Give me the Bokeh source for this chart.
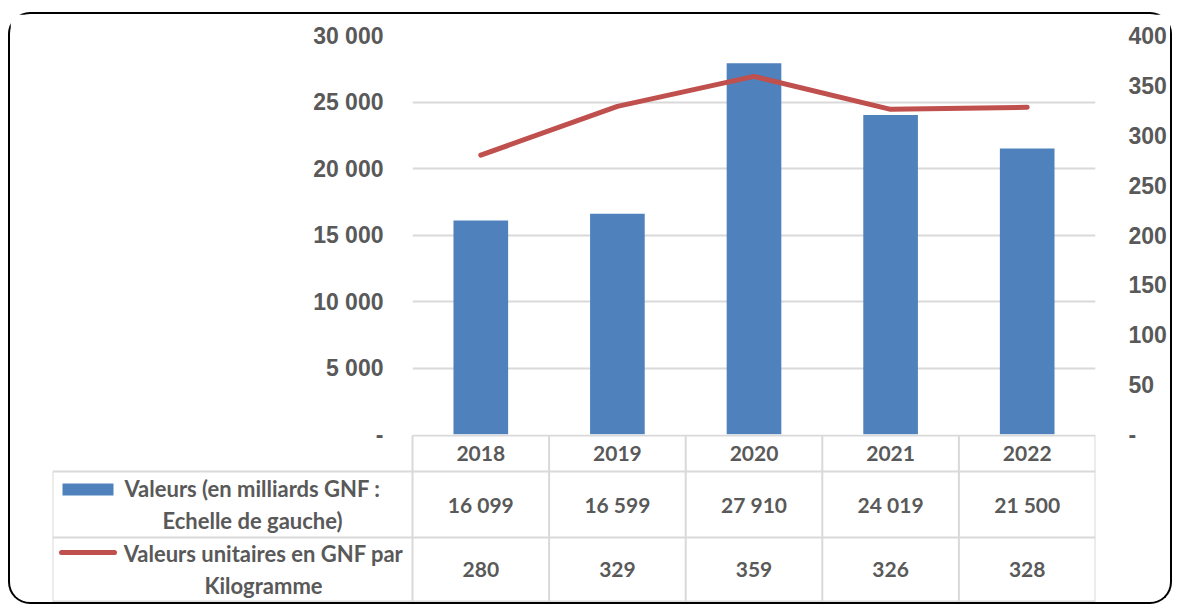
from bokeh.plotting import figure
from bokeh.models import Range1d, LinearAxis, FixedTicker
from bokeh.core.properties import value
from bokeh.embed import file_html
from bokeh.resources import INLINE

# ---------------- data ----------------
years = ["2018", "2019", "2020", "2021", "2022"]
valeurs = [16099, 16599, 27910, 24019, 21500]          # milliards GNF (left scale)
unitaires = [280, 329, 359, 326, 328]                  # GNF par kg (right scale)
left_ticks = [0, 5000, 10000, 15000, 20000, 25000, 30000]
left_tick_labels = ["-", "5 000", "10 000", "15 000", "20 000", "25 000", "30 000"]
right_ticks = [0, 50, 100, 150, 200, 250, 300, 350, 400]
right_tick_labels = ["-", "50", "100", "150", "200", "250", "300", "350", "400"]
legend_labels = ["Valeurs (en milliards GNF :\nEchelle de gauche)",
                 "Valeurs unitaires en GNF par\nKilogramme"]

BLUE = "#4F81BD"
RED = "#C0504D"
GRAY = "#595959"
GRID = "#D9D9D9"
BORDER = "2px solid #000"

def fmt(v):
    return f"{v:,}".replace(",", " ")

# ---------------- chart ----------------
p = figure(x_range=years, y_range=Range1d(0, 30000),
           frame_width=683, frame_height=399,
           min_border_left=402, min_border_right=75, min_border_top=21, min_border_bottom=14,
           x_axis_location=None, toolbar_location=None, output_backend="svg",
           outline_line_color=None, background_fill_color="white", border_fill_color="white")
p.margin = (12, 0, 0, 8)
p.extra_y_ranges = {"right": Range1d(0, 400)}
p.styles = {"border-top": BORDER, "border-left": BORDER, "border-right": BORDER,
            "border-top-left-radius": "22px", "border-top-right-radius": "22px"}

p.vbar(x=years, top=valeurs, width=0.4, fill_color=BLUE, line_color=None)
p.line(x=years, y=unitaires, y_range_name="right", line_color=RED, line_width=5,
       line_cap="round", line_join="round")

p.xgrid.visible = False
p.ygrid.grid_line_color = GRID
p.ygrid.grid_line_width = 2
p.ygrid.ticker = FixedTicker(ticks=left_ticks)

def style_axis(ax, standoff):
    ax.axis_line_color = None
    ax.major_tick_line_color = None
    ax.minor_tick_line_color = None
    ax.major_tick_out = 0
    ax.major_tick_in = 0
    ax.major_label_standoff = standoff
    ax.major_label_text_font = "Liberation Sans"
    ax.major_label_text_font_style = "bold"
    ax.major_label_text_font_size = "23px"
    ax.major_label_text_color = GRAY

yl = p.yaxis[0]
yl.ticker = FixedTicker(ticks=left_ticks)
yl.major_label_overrides = {t: l for t, l in zip(left_ticks, left_tick_labels)}
style_axis(yl, 29)

yr = LinearAxis(y_range_name="right", ticker=FixedTicker(ticks=right_ticks))
yr.major_label_overrides = {t: l for t, l in zip(right_ticks, right_tick_labels)}
style_axis(yr, 33)
p.add_layout(yr, "right")

# ---------------- data table ----------------
col_w = 683 / 5
L = (412 - 52) / col_w
t = figure(x_range=Range1d(-L, 5), y_range=Range1d(167, -1),
           frame_width=1043, frame_height=168,
           min_border_left=42, min_border_right=75, min_border_top=0, min_border_bottom=0,
           x_axis_location=None, y_axis_location=None,
           toolbar_location=None, output_backend="svg",
           outline_line_color=None, background_fill_color=None, border_fill_color=None)
t.margin = (-14, 0, 0, 8)
t.styles = {"border-bottom": BORDER, "border-left": BORDER, "border-right": BORDER,
            "border-bottom-left-radius": "22px", "border-bottom-right-radius": "22px"}
t.xgrid.visible = False
t.ygrid.visible = False

row_y = [0, 36, 102, 166]
# horizontal rules
t.segment(x0=[0, -L, -L, -L], y0=row_y, x1=[5, 5, 5, 5], y1=row_y,
          line_color=GRID, line_width=2)
# vertical rules
vx = list(range(6))
t.segment(x0=vx, y0=[0] * 6, x1=vx, y1=[166] * 6, line_color=GRID, line_width=2)
t.segment(x0=[-L], y0=[36], x1=[-L], y1=[166], line_color=GRID, line_width=2)

xc = [i + 0.5 for i in range(len(years))]
txt = dict(text_font=value("Lato"), text_font_style="bold",
           text_color=GRAY, text_align="center", text_baseline="middle")
t.text(x=xc, y=[18] * 5, text=years, text_font_size="21px", **txt)
t.text(x=xc, y=[69] * 5, text=[fmt(v) for v in valeurs], text_font_size="21px", **txt)
t.text(x=xc, y=[134] * 5, text=[str(v) for v in unitaires], text_font_size="21px", **txt)

# legend keys and labels
t.text(x=[(252 - 412) / col_w, (263 - 412) / col_w], y=[69, 134], text=legend_labels,
       text_font_size="22px", text_line_height=1.22, **txt)
t.quad(left=[(62 - 412) / col_w], right=[(113 - 412) / col_w], top=[48], bottom=[60],
       fill_color=BLUE, line_color=None)
t.line(x=[(61 - 412) / col_w, (114 - 412) / col_w], y=[117, 117], line_color=RED,
       line_width=5, line_cap="round")

open("out.html", "w").write(file_html([p, t], INLINE))
